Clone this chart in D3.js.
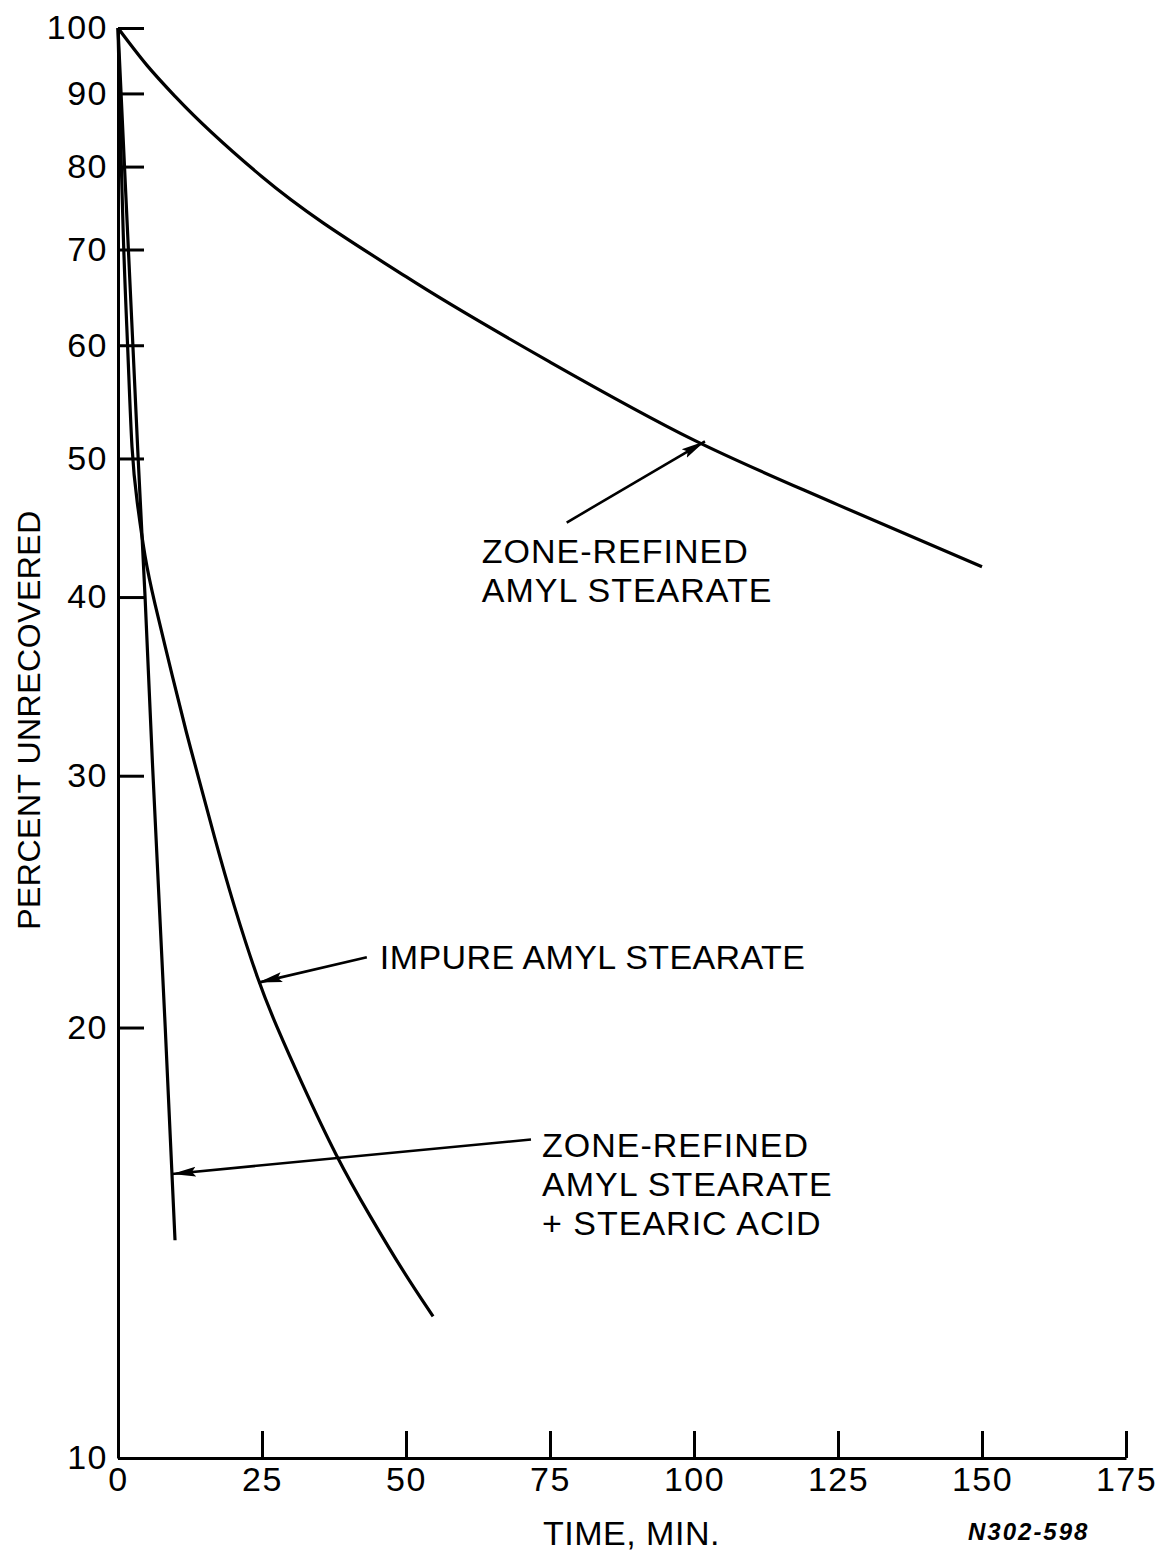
<!DOCTYPE html>
<html>
<head>
<meta charset="utf-8">
<script src="https://cdn.jsdelivr.net/npm/d3@7"></script>
<style>
  body { margin: 0; background: #fff; }
  text { font-family: "Liberation Sans", Arial, sans-serif; fill: #000; }
</style>
</head>
<body>
<div class="chart"></div>
<script>
// time (min) vs percent unrecovered
var zoneRefined = [
    [0, 100], [5, 94.2], [10, 89.5], [25, 78.7], [50, 67], [75, 58.4],
    [100, 51.5], [125, 46.4], [150, 42]
];
var impure = [
    [0, 100], [0.9, 70], [1.7, 60], [2.4, 50], [3.25, 46.8], [4.7, 42.5], [6.1, 40],
    [9.6, 35], [11.9, 32.1], [13.9, 30], [16.7, 27.2], [20, 24.4], [24.4, 21.5],
    [27.6, 20], [31.6, 18.4], [38, 16.2], [43.8, 14.75], [49.5, 13.5], [54.7, 12.56]
];
var zoneRefinedAcid = [
    [0, 100], [2.5, 61], [3.5, 50], [4.7, 40], [6, 30.5], [8.2, 20], [9.9, 14.2]
];

var xTicks = [0, 25, 50, 75, 100, 125, 150, 175];
var yTicks = [10, 20, 30, 40, 50, 60, 70, 80, 90, 100];

// arrow tip and tail in data units, label lines
var notes = [
    { lines: ["ZONE-REFINED", "AMYL STEARATE"], tip: [101.9, 51.4], tail: [77.9, 45.1] },
    { lines: ["IMPURE AMYL STEARATE"], tip: [24.36, 21.5], tail: [43.2, 22.4] },
    { lines: ["ZONE-REFINED", "AMYL STEARATE", "+ STEARIC ACID"], tip: [9.37, 15.8], tail: [71.7, 16.7] }
];

var width = 1161, height = 1556;

var svg = d3.select('.chart')
    .append('svg')
    .attr("width", width)
    .attr("height", height);

var x = d3.scaleLinear().domain([0, 175]).range([118, 1126]);
var y = d3.scaleLog().domain([10, 100]).range([1458, 28]);

svg.append("defs").append("marker")
    .attr("id", "head")
    .attr("markerUnits", "userSpaceOnUse")
    .attr("viewBox", "0 -6 24 12")
    .attr("refX", 24)
    .attr("refY", 0)
    .attr("markerWidth", 24)
    .attr("markerHeight", 12)
    .attr("orient", "auto")
    .append("path")
    .attr("d", "M0,-5L24,0L0,5L4,0Z")
    .attr("fill", "#000");

var yAxis = d3.axisLeft(y)
    .tickValues(yTicks)
    .tickFormat(d3.format("d"))
    .tickSizeInner(-26)
    .tickSizeOuter(0)
    .tickPadding(10);

var xAxis = d3.axisBottom(x)
    .tickValues(xTicks)
    .tickFormat(d3.format("d"))
    .tickSizeInner(-27)
    .tickSizeOuter(0)
    .tickPadding(9);

var gy = svg.append("g")
    .attr("transform", "translate(" + x(0) + ",0)")
    .call(yAxis);

var gx = svg.append("g")
    .attr("transform", "translate(0," + y(10) + ")")
    .call(xAxis);

[gx, gy].forEach(function(g) {
    g.attr("font-family", null).attr("font-size", null);
    g.select(".domain").attr("stroke-width", 3).attr("stroke", "#000");
    g.selectAll(".tick line").attr("stroke-width", 3).attr("stroke", "#000");
    g.selectAll(".tick text")
        .attr("font-size", 34)
        .attr("letter-spacing", 1.5)
        .attr("fill", "#000");
});

function lineWith(curve) {
    return d3.line()
        .curve(curve)
        .x(function(d) { return x(d[0]); })
        .y(function(d) { return y(d[1]); });
}

[[zoneRefined, lineWith(d3.curveMonotoneX)],
 [impure, lineWith(d3.curveBasis)],
 [zoneRefinedAcid, lineWith(d3.curveLinear)]].forEach(function(s) {
    svg.append("path")
        .datum(s[0])
        .attr("d", s[1])
        .attr("fill", "none")
        .attr("stroke", "#000")
        .attr("stroke-width", 3.2)
        .attr("stroke-linejoin", "round");
});

// callouts: label offset from arrow tail, letter spacing
var labelOffset = [[-85, 40], [13, 12], [11, 17]];
var spacing = [1, 0.4, 1];
notes.forEach(function(n, i) {
    var tx = x(n.tail[0]), ty = y(n.tail[1]);
    svg.append("line")
        .attr("x1", tx).attr("y1", ty)
        .attr("x2", x(n.tip[0])).attr("y2", y(n.tip[1]))
        .attr("stroke", "#000")
        .attr("stroke-width", 2.6)
        .attr("marker-end", "url(#head)");

    var t = svg.append("text")
        .attr("x", tx + labelOffset[i][0])
        .attr("y", ty + labelOffset[i][1])
        .attr("font-size", 34)
        .attr("letter-spacing", spacing[i]);
    n.lines.forEach(function(l, j) {
        t.append("tspan")
            .attr("x", tx + labelOffset[i][0])
            .attr("dy", j == 0 ? 0 : 39)
            .text(l);
    });
});

svg.append("text")
    .attr("transform", "translate(40," + 720 + ") rotate(-90)")
    .attr("text-anchor", "middle")
    .attr("font-size", 32)
    .attr("letter-spacing", 0.5)
    .text("PERCENT UNRECOVERED");

svg.append("text")
    .attr("x", 543)
    .attr("y", 1545)
    .attr("font-size", 34)
    .attr("letter-spacing", 0.5)
    .text("TIME, MIN.");

svg.append("text")
    .attr("x", 968)
    .attr("y", 1540)
    .attr("font-size", 24)
    .attr("font-weight", "bold")
    .attr("font-style", "italic")
    .attr("letter-spacing", 2)
    .text("N302-598");
</script>
</body>
</html>
